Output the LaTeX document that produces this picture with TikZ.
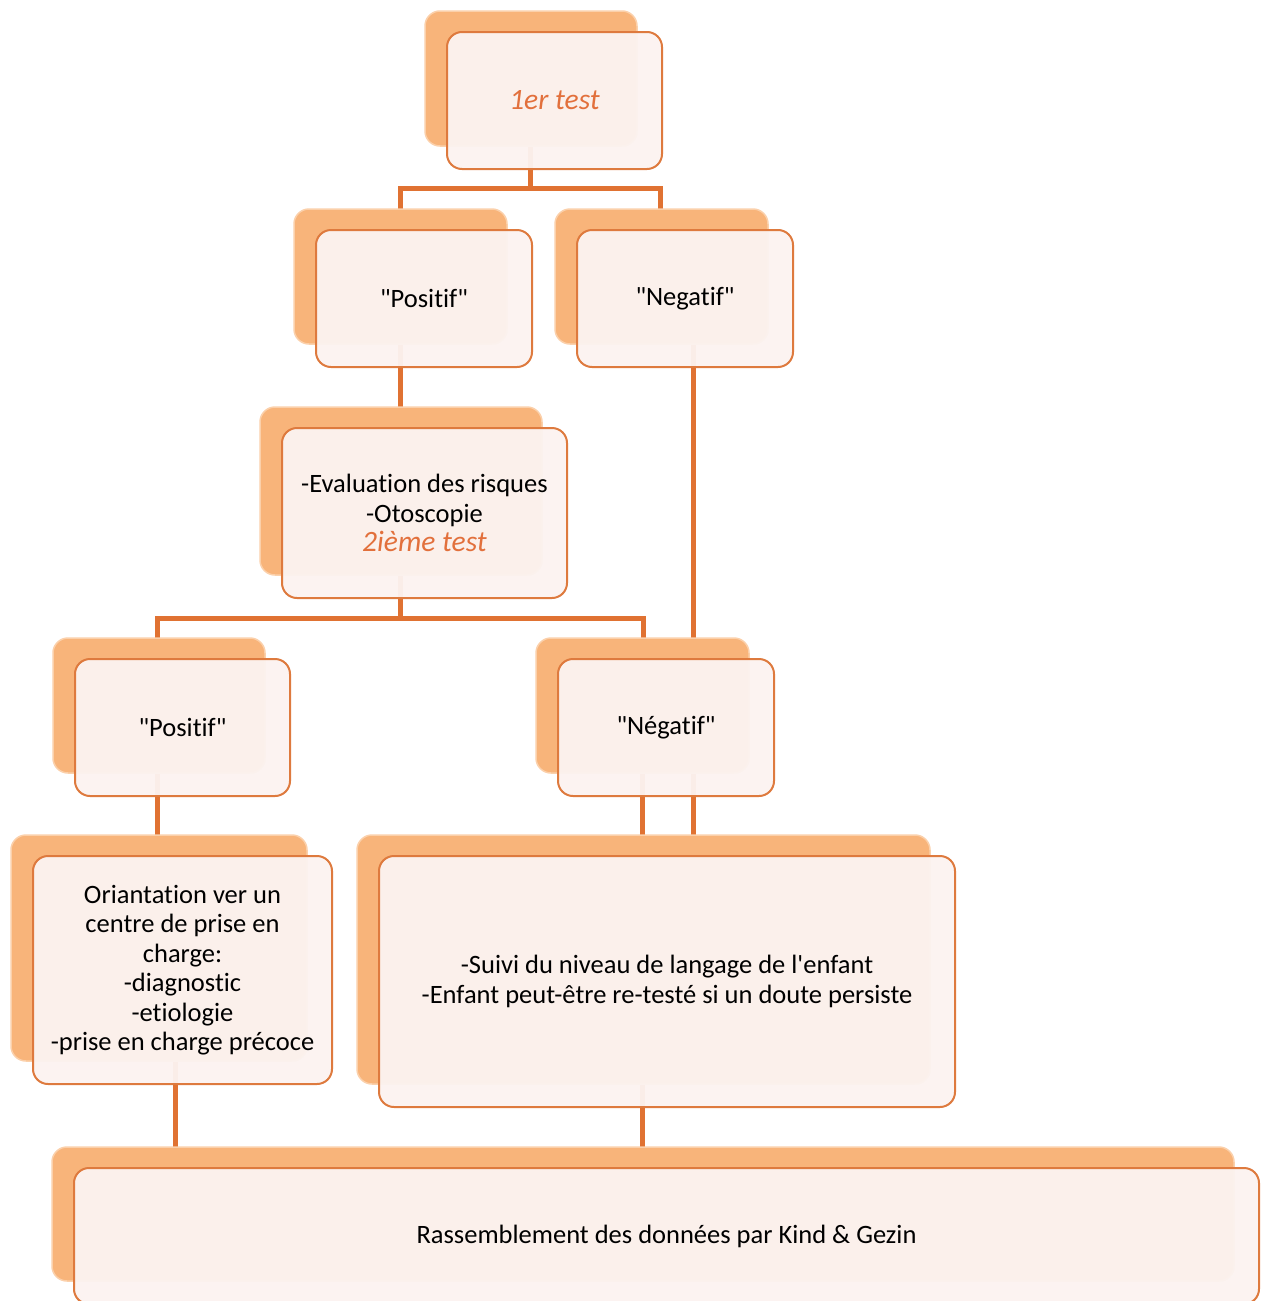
\documentclass[tikz,border=0pt]{standalone}
\usepackage{fontspec}
\setmainfont{Carlito}[Ligatures={TeXOff,NoCommon}]

\definecolor{linkorange}{RGB}{224,114,50}
\definecolor{boxedge}{RGB}{222,122,62}
\definecolor{shadeorange}{RGB}{248,180,122}
\definecolor{shadeedge}{RGB}{251,208,170}
\definecolor{frontfill}{RGB}{252,243,240}
\definecolor{textorange}{RGB}{226,112,60}

\newcommand{\testlabel}[1]{{\fontsize{29.5}{29.5}\selectfont\itshape\color{textorange}#1}}

\pgfdeclarelayer{links}
\pgfdeclarelayer{back}
\pgfsetlayers{links,back,main}

\begin{document}
\begin{tikzpicture}[x=1pt, y=1pt,
    frontbox/.style 2 args={draw=boxedge, line width=2pt, rounded corners=15pt,
      fill=frontfill, fill opacity=0.96, text opacity=1, align=center,
      minimum width=#1, minimum height=#2, inner sep=0pt,
      font=\fontsize{26.5}{29.5}\selectfont},
    backbox/.style={fill=shadeorange, draw=shadeedge, line width=1.5pt, rounded corners=15pt},
    link/.style={draw=linkorange, line width=5pt}]

  \useasboundingbox (0,0) rectangle (1264,-1301);

  % boxes
  \node[frontbox={215pt}{137pt}] (test1) at (554.5,-100.5) {\testlabel{1er test}};
  \node[frontbox={216pt}{137pt}] (pos1) at (424,-298.5) {"Positif"};
  \node[frontbox={216pt}{137pt}] (neg1) at (685,-298.5) {"Negatif"};
  \node[frontbox={285pt}{170pt}] (eval) at (424.5,-513)
    {-Evaluation des risques\\-Otoscopie\\\testlabel{2ième test}};
  \node[frontbox={215pt}{137pt}] (pos2) at (182.5,-727.5) {"Positif"};
  \node[frontbox={216pt}{137pt}] (neg2) at (666,-727.5) {"Négatif"};
  \node[frontbox={299pt}{228pt}] (orient) at (182.5,-970)
    {Oriantation ver un\\centre de prise en\\charge:\\-diagnostic\\-etiologie\\-prise en charge précoce};
  \node[frontbox={576pt}{251pt}] (suivi) at (667,-981.5)
    {-Suivi du niveau de langage de l'enfant\\-Enfant peut-être re-testé si un doute persiste};
  \node[frontbox={1185pt}{136pt}] (rass) at (666.5,-1236)
    {Rassemblement des données par Kind \& Gezin};

  % shadow boxes behind
  \begin{pgfonlayer}{back}
    \foreach \n in {test1,pos1,neg1,eval,pos2,neg2,orient,suivi,rass}
      \draw[backbox] ([shift={(-21,20)}]\n.north west) rectangle ([shift={(-26,24)}]\n.south east);
  \end{pgfonlayer}

  % connectors
  \begin{pgfonlayer}{links}
    \draw[link] ([xshift=-24.5pt]test1.center) -- ([xshift=-24.5pt,yshift=-18pt]test1.south) coordinate (fork1);
    \draw[link] ([xshift=-24pt]pos1.north) |- (fork1) -| ([xshift=-25pt]neg1.north);

    \draw[link] ([xshift=-24pt]pos1.center) -- ([xshift=-24.5pt]eval.north);
    \draw[link] ([xshift=8pt]neg1.center) -- ([xshift=26pt]suivi.north);

    \draw[link] ([xshift=-24.5pt]eval.center) -- ([xshift=-24.5pt,yshift=-19pt]eval.south) coordinate (fork2);
    \draw[link] ([xshift=-25.5pt]pos2.north) |- (fork2) -| ([xshift=-23pt]neg2.north);

    \draw[link] ([xshift=-25.5pt]pos2.center) -- ([xshift=-25.5pt]orient.north);
    \draw[link] ([xshift=-24pt]neg2.center) -- ([xshift=-25pt]suivi.north);

    \draw[link] ([xshift=-7.5pt]orient.center) -- ([xshift=-7.5pt]orient.center |- rass.north);
    \draw[link] ([xshift=-25pt]suivi.center) -- ([xshift=-25pt]suivi.center |- rass.north);
  \end{pgfonlayer}

\end{tikzpicture}
\end{document}
